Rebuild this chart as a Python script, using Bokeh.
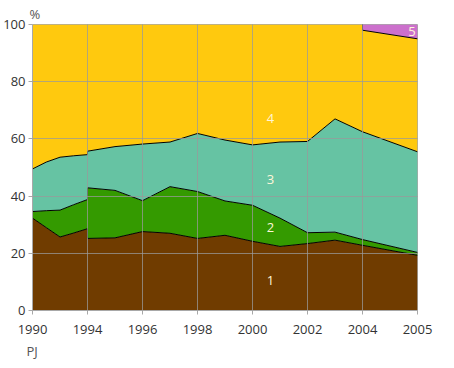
import numpy as np
from bokeh.plotting import figure
from bokeh.models import FixedTicker, Title, ColumnDataSource
from bokeh.core.properties import value
from bokeh.embed import file_html
from bokeh.resources import INLINE

# ---- data (shares in %) ----
years = [1990, 1991, 1992, 1993, 1994, 1994, 1995, 1996, 1997, 1998,
         1999, 2000, 2001, 2002, 2003, 2004, 2004, 2005]
s1 = [32.3, 29.0, 25.7, 27.1, 28.6, 25.2, 25.4, 27.6, 27.0, 25.2,
      26.3, 24.2, 22.4, 23.4, 24.6, 22.8, 22.8, 19.3]
s2 = [2.3, 5.9, 9.4, 9.9, 10.2, 17.7, 16.6, 10.8, 16.3, 16.4,
      12.0, 12.6, 9.9, 3.8, 2.8, 2.0, 2.0, 1.0]
s3 = [14.9, 17.0, 18.5, 17.1, 15.7, 12.8, 15.3, 19.8, 15.6, 20.3,
      21.3, 21.1, 26.6, 31.9, 39.6, 37.7, 37.7, 35.2]
s4 = [50.5, 48.1, 46.4, 45.9, 45.5, 44.3, 42.7, 41.8, 41.1, 38.1,
      40.4, 42.1, 41.1, 40.9, 33.0, 37.5, 35.5, 39.5]
s5 = [0, 0, 0, 0, 0, 0, 0, 0, 0, 0,
      0, 0, 0, 0, 0, 0, 2.0, 5.0]

tick_years = [1990, 1994, 1996, 1998, 2000, 2002, 2004, 2005]
tick_labels = ["1990", "1994", "1996", "1998", "2000", "2002", "2004", "2005"]
y_ticks = [0, 20, 40, 60, 80, 100]

series_labels = ["1", "2", "3", "4", "5"]
label_years = [2000.65, 2000.65, 2000.65, 2000.65, 2004.9]
label_values = [10.5, 29.0, 45.8, 67.1, 97.6]

colors = ["#703C00", "#349A00", "#66C3A3", "#FFC90E", "#CC70CC"]

# ---- axis positions: ticks are evenly spaced slots ----
slots = list(range(len(tick_years)))


def pos(yrs):
    return np.interp(yrs, tick_years, slots)


x = pos(years)
src = ColumnDataSource(dict(x=x, s1=s1, s2=s2, s3=s3, s4=s4, s5=s5))

p = figure(frame_width=385, frame_height=286, x_range=(0, 7), y_range=(0, 100),
           output_backend="svg", toolbar_location=None,
           min_border_left=0, min_border_right=20, min_border_top=0, min_border_bottom=0)

p.varea_stack(["s1", "s2", "s3", "s4", "s5"], x="x", source=src, color=colors)

cum = np.cumsum(np.array([s1, s2, s3, s4, s5]), axis=0)
for k in range(3):
    p.line(x, cum[k], line_color="black", line_width=1)
mask = np.array(s5) > 0
idx = np.where(mask)[0]
i0 = idx[0] - 1
p.line(x[i0:], cum[3][i0:], line_color="black", line_width=1)

p.text(x=pos(label_years), y=label_values, text=series_labels,
       text_color="#FFF6D8", text_font=value("Open Sans"), text_font_size="13px",
       text_align="center", text_baseline="middle")

# axes
p.xaxis.ticker = FixedTicker(ticks=slots)
p.xaxis.major_label_overrides = {s: l for s, l in zip(slots, tick_labels)}
p.yaxis.ticker = FixedTicker(ticks=y_ticks)
for ax in p.axis:
    ax.axis_line_color = "#a8a8a8"
    ax.major_tick_line_color = "#a8a8a8"
    ax.major_tick_out = 4
    ax.major_tick_in = 0
    ax.minor_tick_line_color = None
    ax.major_label_text_font = "Open Sans"
    ax.major_label_text_font_size = "13px"
    ax.major_label_text_color = "#333333"
p.xaxis.major_label_standoff = 10
p.yaxis.major_label_standoff = 3

for g in (p.xgrid, p.ygrid):
    g.grid_line_color = "#9a9a9a"
    g.grid_line_alpha = 0.75
    g.level = "guide"
p.xgrid.ticker = FixedTicker(ticks=slots)
p.ygrid.ticker = FixedTicker(ticks=y_ticks)
p.outline_line_color = "#a8a8a8"

p.title.text = "%"
p.title.align = "left"
p.title.offset = -3
p.title.text_font = "Open Sans"
p.title.text_font_size = "13px"
p.title.text_font_style = "normal"
p.title.text_color = "#555555"
p.title.standoff = 4

pj = Title(text="PJ", align="left", offset=-6, text_font="Open Sans",
           text_font_size="13px", text_font_style="normal", text_color="#555555",
           standoff=6)
p.add_layout(pj, "below")

open("out.html", "w").write(file_html(p, INLINE))
